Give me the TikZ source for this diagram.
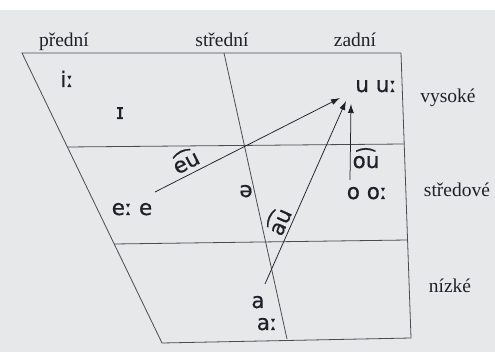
\documentclass[tikz,border=0pt]{standalone}
\usepackage{fontspec}
\setmainfont{Liberation Serif}
\newfontfamily\ipa[FakeBold=0.6]{DejaVu Sans}
\usetikzlibrary{arrows.meta}
\definecolor{paper}{HTML}{E6E8EA}
\definecolor{ink}{HTML}{4A4C50}
\definecolor{txt}{HTML}{1E2128}
\tikzset{
  grid/.style={draw=ink, line width=0.8pt},
  arr/.style={draw=txt, line width=0.75pt, -{Latex[length=9pt,width=6pt]}},
  lab/.style={text=txt, font=\fontsize{19.5}{22}\selectfont, anchor=base, inner sep=0pt},
  snd/.style={text=txt, font=\ipa\fontsize{21.5}{24}\selectfont, anchor=base, inner sep=0pt},
}
\begin{document}
\begin{tikzpicture}[x=1pt,y=-1pt]
\useasboundingbox (0,0) rectangle (495,352);
\fill[white] (0,0) rectangle (495,352);
\fill[paper] (0,10) rectangle (495,352);
% frame corners
\coordinate (TL) at (22,53);
\coordinate (TM) at (224,53);
\coordinate (TR) at (401,53);
\coordinate (BL) at (162,343);
\coordinate (BM) at (287,339);
\coordinate (BR) at (411,338);
\coordinate (H1L) at (67.4,147);
\coordinate (H1R) at (404.2,144);
\coordinate (H2L) at (114.2,244);
\coordinate (H2R) at (407.6,240);
\draw[grid] (TL) -- (TR) -- (BR) -- (BL) -- cycle;
\draw[grid] (TM) -- (BM);
\draw[grid] (H1L) -- (H1R);
\draw[grid] (H2L) -- (H2R);
% column / row labels
\node[lab] (pr) at (64,47) {přední};
\node[lab] (st) at (222,47) {střední};
\node[lab] (za) at (355,47) {zadní};
\node[lab] (vy) at (448,103) {vysoké};
\node[lab] (sd) at (457,197) {středové};
\node[lab] (ni) at (450,293) {nízké};
% vowels
\node[snd] (ii) at (67,87) {iː};
\node[snd] (I) at (120,119) {ɪ};
\node[snd] (uu) at (376,92) {u uː};
\node[snd] (ee) at (132,215) {eː e};
\node[snd] (schwa) at (246,197) {ə};
\node[snd] (oo) at (367,199) {o oː};
\node[snd] (a) at (258,308) {a};
\node[snd] (aa) at (267,330) {aː};
% diphthongs
\coordinate (euS) at (155,192);
\coordinate (euE) at (340,98);
\coordinate (auS) at (265,284);
\coordinate (auE) at (346,101);
\coordinate (ouS) at (350,180);
\coordinate (ouE) at (351,104);
\draw[arr] (euS) -- (euE);
\draw[arr] (auS) -- (auE);
\draw[arr] (ouS) -- (ouE);
\node[snd, anchor=center, rotate=27] (eu) at (185,160) {e͡u};
\node[snd, anchor=center, rotate=66] (au) at (278,221) {a͡u};
\node[snd] (ou) at (366,168) {o͡u};
\end{tikzpicture}
\end{document}
